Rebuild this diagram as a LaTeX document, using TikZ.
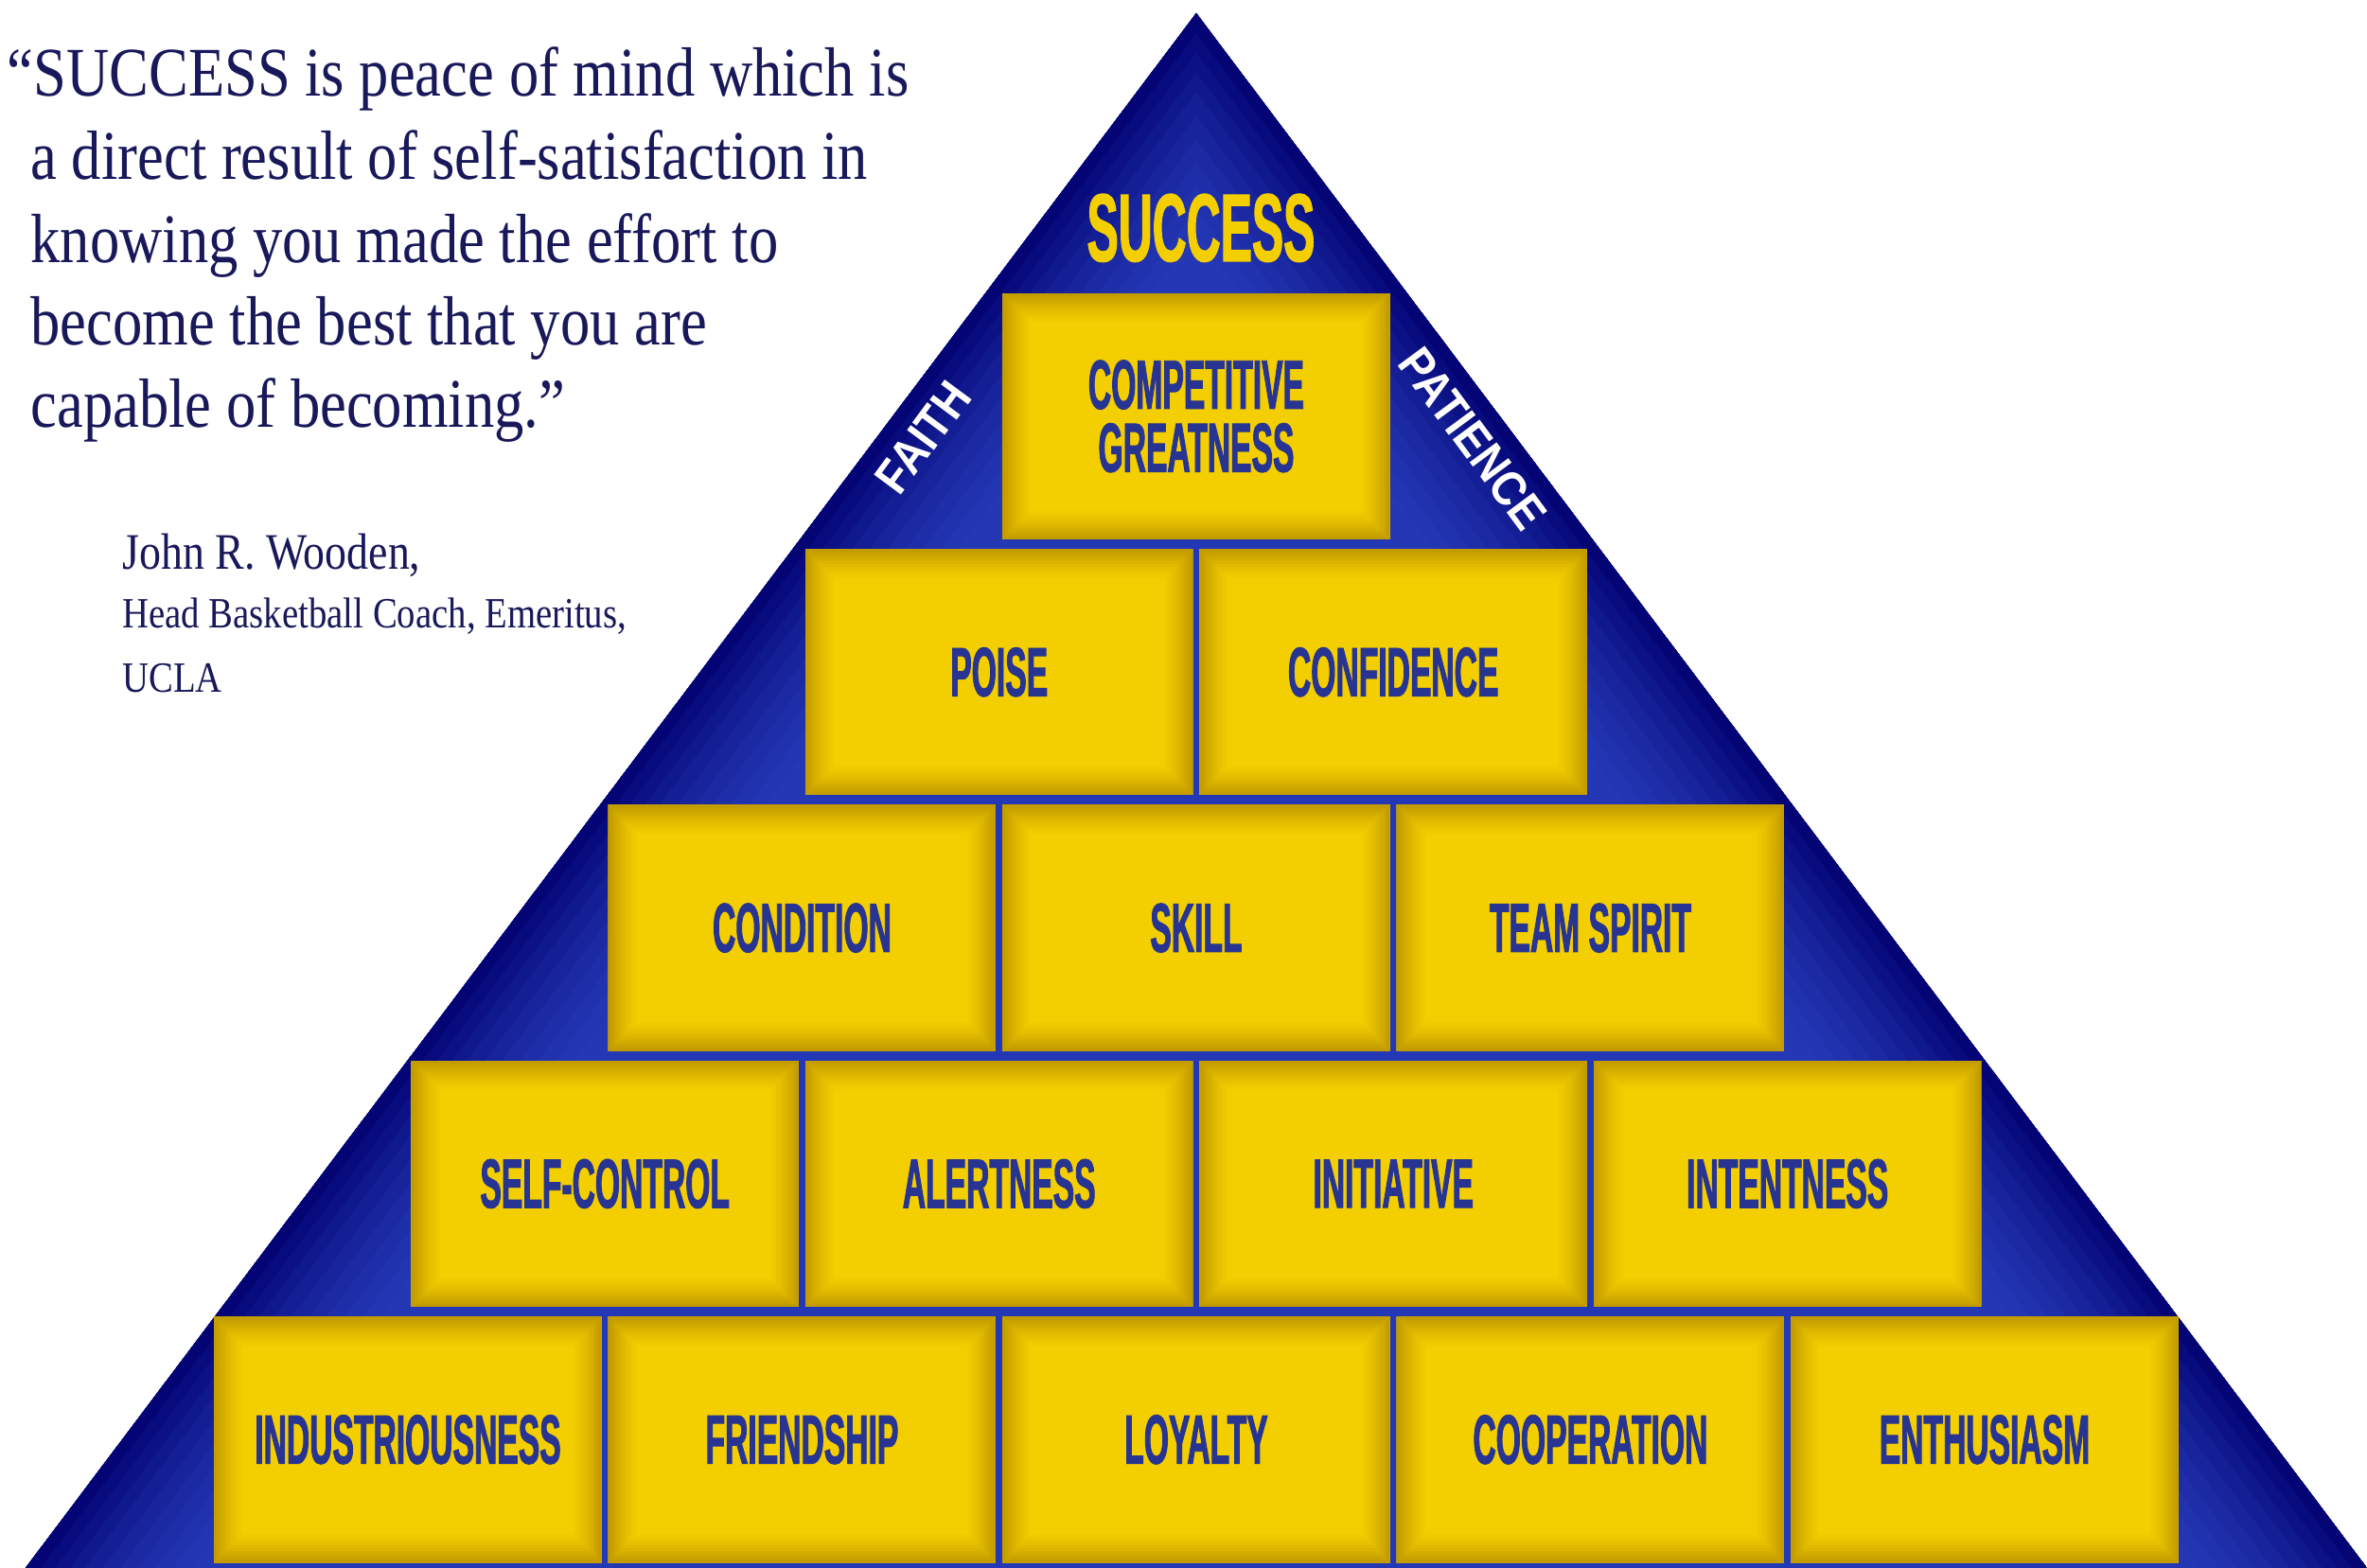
\documentclass[tikz,border=0pt]{standalone}
\usepackage{fontspec}
\newfontfamily\brickfont{Liberation Sans}[FakeStretch=0.457,FakeBold=1.2]
\newfontfamily\peakfont{Liberation Sans}[FakeStretch=0.49,FakeBold=1.2]
\newfontfamily\sidefont{Liberation Sans}[FakeStretch=0.88]
\newfontfamily\quotefont{Liberation Serif}[FakeStretch=0.85]

\definecolor{pyrblue}{RGB}{36,56,182}
\definecolor{pyrnavy}{RGB}{4,4,116}
\definecolor{brickgold}{RGB}{243,206,0}
\definecolor{brickshade}{RGB}{190,150,0}
\definecolor{brickink}{RGB}{40,52,146}
\definecolor{quoteink}{RGB}{24,24,90}

\begin{document}
\begin{tikzpicture}[
  brick/.style={rectangle, inner sep=0pt, minimum width=4.1cm, minimum height=2.6cm,
    fill=brickgold, text=brickink, align=center,
    font=\brickfont\bfseries\fontsize{21}{19}\selectfont,
    path picture={
      \foreach \lw/\mix in {0.60/6, 0.54/12, 0.48/19, 0.42/27, 0.36/36, 0.30/46, 0.24/57, 0.18/68, 0.12/79, 0.06/90}
        \draw[draw=brickshade!\mix!brickgold, line width=\lw cm]
          (path picture bounding box.south west) rectangle (path picture bounding box.north east);
    }},
  peak/.style={inner sep=0pt, text=brickgold, font=\peakfont\bfseries\fontsize{29}{31}\selectfont},
  sidelabel/.style={inner sep=0pt, text=white, font=\sidefont\bfseries\fontsize{14.7}{16}\selectfont},
  quoteline/.style={anchor=base west, inner sep=0pt, text=quoteink, font=\quotefont\fontsize{21}{25}\selectfont},
  credit/.style={anchor=base west, inner sep=0pt, text=quoteink, font=\quotefont\fontsize{13}{15}\selectfont}
]
\path[fill=white] (0,0) rectangle (25.01,16.61);

\coordinate (apex) at (12.67,16.47);
\coordinate (baseL) at (0.27,0);
\coordinate (baseR) at (25.07,0);

% Pyramid, darker towards the slanted sides
\begin{scope}
  \clip (apex) -- (baseL) -- (baseR) -- cycle;
  \fill[pyrblue] (apex) -- (baseL) -- (baseR) -- cycle;
  \foreach \lw/\mix in {2.8/5, 2.5/12, 2.2/20, 1.9/29, 1.6/39, 1.3/50, 1.0/62, 0.75/74, 0.5/86, 0.25/100}
    \draw[draw=pyrnavy!\mix!pyrblue, line width=\lw cm] (baseL) -- (apex) -- (baseR);
\end{scope}

% Bottom row
\node[brick] (industry) at (4.32,1.36) {INDUSTRIOUSNESS};
\node[brick] (friend) at (8.495,1.36) {FRIENDSHIP};
\node[brick] (loyal) at (12.67,1.36) {LOYALTY};
\node[brick] (coop) at (16.845,1.36) {COOPERATION};
\node[brick] (enthus) at (21.02,1.36) {ENTHUSIASM};

% Second row
\node[brick] (selfctl) at (6.4075,4.07) {SELF-CONTROL};
\node[brick] (alert) at (10.5825,4.07) {ALERTNESS};
\node[brick] (init) at (14.7575,4.07) {INITIATIVE};
\node[brick] (intent) at (18.9325,4.07) {INTENTNESS};

% Third row
\node[brick] (cond) at (8.495,6.78) {CONDITION};
\node[brick] (skill) at (12.67,6.78) {SKILL};
\node[brick] (team) at (16.845,6.78) {TEAM SPIRIT};

% Fourth row
\node[brick] (poise) at (10.5825,9.49) {POISE};
\node[brick] (confid) at (14.7575,9.49) {CONFIDENCE};

% Top block
\node[brick] (compete) at (12.67,12.20) {COMPETITIVE\\GREATNESS};

\node[peak] (success) at (12.72,14.195) {SUCCESS};
\node[sidelabel, rotate=53.5] (faith) at (9.78,11.98) {FAITH};
\node[sidelabel, rotate=-53.5] (patience) at (15.60,11.96) {PATIENCE};

% Quote
\node[quoteline] (q1) at (0.35,15.59) {\llap{“}SUCCESS is peace of mind which is};
\node[quoteline] (q2) at (0.32,14.71) {a direct result of self-satisfaction in};
\node[quoteline] (q3) at (0.32,13.83) {knowing you made the effort to};
\node[quoteline] (q4) at (0.32,12.96) {become the best that you are};
\node[quoteline] (q5) at (0.32,12.08) {capable of becoming.”};

\node[credit, font=\quotefont\fontsize{15.4}{17}\selectfont] (c1) at (1.29,10.58) {John R. Wooden,};
\node[credit] (c2) at (1.29,9.96) {Head Basketball Coach, Emeritus,};
\node[credit] (c3) at (1.29,9.28) {UCLA};
\end{tikzpicture}
\end{document}
